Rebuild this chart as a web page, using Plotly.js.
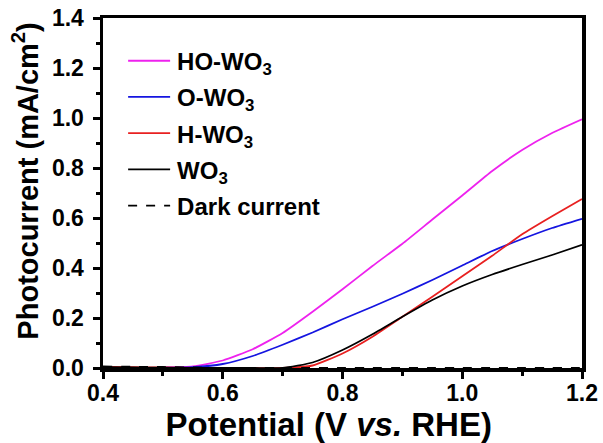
<!DOCTYPE html>
<html>
<head>
<meta charset="utf-8">
<script src="https://cdn.plot.ly/plotly-3.0.1.min.js"></script>
<style>
  html, body { margin: 0; padding: 0; background: #ffffff; }
  #chart { width: 603px; height: 443px; }
</style>
</head>
<body>
<div id="chart"></div>
<script>
// Potential (V vs. RHE)
const potential = [0.40, 0.45, 0.50, 0.55, 0.60, 0.65, 0.70, 0.75, 0.80, 0.85, 0.90, 0.95, 1.00, 1.05, 1.10, 1.15, 1.20];
// Photocurrent (mA/cm2)
const hoWO3 = [null, null, 0.002, 0.006, 0.030, 0.075, 0.140, 0.225, 0.315, 0.408, 0.497, 0.594, 0.690, 0.788, 0.872, 0.940, 0.995];
const oWO3  = [null, null, 0.001, 0.003, 0.016, 0.048, 0.093, 0.142, 0.195, 0.245, 0.297, 0.352, 0.410, 0.468, 0.516, 0.560, 0.597];
const hWO3  = [0.004, 0.003, 0.002, 0.000, 0.000, 0.000, 0.000, 0.010, 0.058, 0.125, 0.205, 0.285, 0.367, 0.449, 0.535, 0.607, 0.676];
const wo3   = [0.003, 0.002, 0.001, 0.000, 0.000, 0.000, 0.000, 0.022, 0.072, 0.135, 0.205, 0.272, 0.328, 0.374, 0.414, 0.452, 0.493];
const dark  = [0.006, 0.005, 0.004, 0.002, 0.000, 0.000, 0.000, 0.000, 0.000, 0.000, 0.000, 0.000, 0.000, 0.000, 0.000, 0.000, 0.000];

const seriesNames = ['HO-WO<sub>3</sub>', 'O-WO<sub>3</sub>', 'H-WO<sub>3</sub>', 'WO<sub>3</sub>', 'Dark current'];
const seriesValues = [hoWO3, oWO3, hWO3, wo3, dark];
const seriesColors = ['#ee22ee', '#1515e0', '#e82020', '#000000', '#000000'];
const seriesDash = ['solid', 'solid', 'solid', 'solid', 'dash'];

const FONT = 'Liberation Sans, Arial, Helvetica, sans-serif';

const traces = seriesValues.map((vals, i) => ({
  x: potential,
  y: vals,
  name: seriesNames[i],
  legendgroup: 'g' + i,
  type: 'scatter',
  mode: 'lines',
  line: { color: seriesColors[i], width: 1.8, dash: seriesDash[i], shape: 'spline', smoothing: 0.5 },
  connectgaps: false
}));

const axisCommon = {
  showgrid: false,
  zeroline: false,
  showline: true,
  linecolor: '#000',
  linewidth: 3.5,
  mirror: true,
  ticks: 'outside',
  ticklen: 7,
  tickwidth: 3,
  tickcolor: '#000',
  tickformat: '.1f',
  tickfont: { family: FONT, size: 23, color: '#000', weight: 'bold' },
  minor: { ticks: 'outside', ticklen: 4, tickwidth: 3, tickcolor: '#000', showgrid: false }
};

const layout = {
  width: 603,
  height: 443,
  margin: { l: 103, r: 21, t: 18, b: 75 },
  paper_bgcolor: '#ffffff',
  plot_bgcolor: '#ffffff',
  font: { family: FONT, color: '#000' },
  showlegend: true,
  legend: {
    x: 0.042, y: 0.941, xanchor: 'left', yanchor: 'top',
    bgcolor: 'rgba(0,0,0,0)',
    borderwidth: 0,
    font: { family: FONT, size: 24, color: '#000', weight: 'bold' },
    itemwidth: 44,
    tracegroupgap: 2
  },
  xaxis: Object.assign({}, axisCommon, {
    range: [0.4, 1.2],
    tick0: 0.4,
    dtick: 0.2,
    ticklabelstandoff: -5,
    minor: Object.assign({}, axisCommon.minor, { dtick: 0.1 }),
    title: { text: 'Potential (V <i>vs.</i> RHE)&nbsp;&nbsp;&nbsp;', font: { family: FONT, size: 33, color: '#000', weight: 'bold' }, standoff: 4 }
  }),
  yaxis: Object.assign({}, axisCommon, {
    range: [0, 1.4],
    tick0: 0,
    dtick: 0.2,
    ticklabelstandoff: 4,
    minor: Object.assign({}, axisCommon.minor, { dtick: 0.1 }),
    title: { text: '&nbsp;&nbsp;&nbsp;Photocurrent (mA/cm<sup>2</sup>)', font: { family: FONT, size: 29, color: '#000', weight: 'bold' }, standoff: 6 }
  })
};

Plotly.newPlot('chart', traces, layout, { staticPlot: true, displayModeBar: false }).then(function (gd) {
  // lengthen legend sample lines to match the reference key
  gd.querySelectorAll('.legend .legendlines path').forEach(function (p) {
    p.setAttribute('d', 'M5,0h42');
  });
});
</script>
</body>
</html>
